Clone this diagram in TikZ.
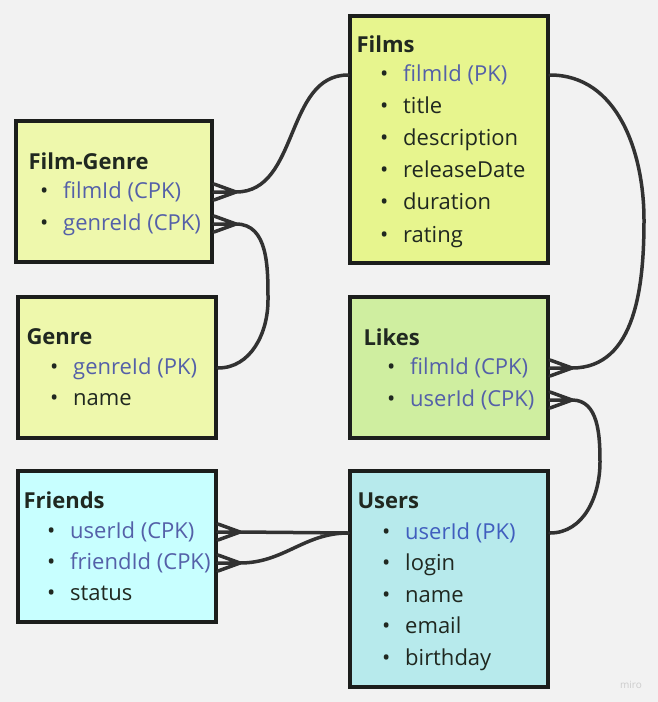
\documentclass[tikz,border=0pt]{standalone}
\usepackage{fontspec}
\setmainfont{Open Sans}
\usetikzlibrary{positioning}
\definecolor{bg}{RGB}{242,242,242}
\definecolor{boxline}{RGB}{28,30,28}
\definecolor{linkgray}{RGB}{50,50,50}
\definecolor{ink}{RGB}{32,40,32}
\definecolor{keyblue}{RGB}{84,96,168}
\definecolor{pkblue}{RGB}{64,94,190}
\definecolor{films-fill}{RGB}{231,245,142}
\definecolor{genre-fill}{RGB}{238,248,172}
\definecolor{likes-fill}{RGB}{207,238,160}
\definecolor{friends-fill}{RGB}{200,255,255}
\definecolor{users-fill}{RGB}{183,234,236}
\newcommand{\fld}[1]{\makebox[23pt][l]{\textcolor{ink}{\textbullet}}#1}
\newcommand{\crowsfoot}[1]{%
  \draw[link] ([xshift=22pt]#1) -- ([yshift=8pt]#1)
              ([xshift=22pt]#1) -- (#1)
              ([xshift=22pt]#1) -- ([yshift=-8pt]#1);}

\begin{document}
\begin{tikzpicture}[x=1pt, y=-1pt,
    table/.style={draw=boxline, line width=4pt, inner sep=0pt},
    title/.style={anchor=west, font=\fontsize{22}{26}\selectfont\bfseries, text=ink},
    field/.style={anchor=west, font=\fontsize{22}{26}\selectfont, text=ink, text height=16pt, text depth=4pt, inner sep=0pt},
    key/.style={field, text=keyblue},
    link/.style={draw=linkgray, line width=3.5pt, line cap=round, line join=round}]

    \fill[bg] (0,0) rectangle (658,702);

    % tables
    \node[table, fill=films-fill, minimum width=198pt, minimum height=247pt] (films) at (449,139.5) {};
    \node[table, fill=genre-fill, minimum width=196pt, minimum height=141pt] (filmgenre) at (114,191.5) {};
    \node[table, fill=genre-fill, minimum width=198pt, minimum height=141pt] (genre) at (117,367.5) {};
    \node[table, fill=likes-fill, minimum width=198pt, minimum height=141pt] (likes) at (449,367.5) {};
    \node[table, fill=friends-fill, minimum width=198pt, minimum height=151pt] (friends) at (117,546.5) {};
    \node[table, fill=users-fill, minimum width=198pt, minimum height=216pt] (users) at (449,579) {};

    % Films
    \node[title] (films-title) at (353,44) {Films};
    \node[key] (films-id) at (380,75) {\fld{filmId (PK)}};
    \foreach \t [count=\i] in {title, description, releaseDate, duration, rating}
        \node[field] (films-\i) at (380,75+32.2*\i) {\fld{\t}};

    % Film-Genre
    \node[title] (fg-title) at (25,161) {Film-Genre};
    \node[key] (fg-film) at (40,192) {\fld{filmId (CPK)}};
    \node[key] (fg-genre) at (40,224) {\fld{genreId (CPK)}};

    % Genre
    \node[title] (genre-title) at (23,337) {Genre};
    \node[key] (genre-id) at (50,368) {\fld{genreId (PK)}};
    \node[field] (genre-name) at (50,399) {\fld{name}};

    % Likes
    \node[title] (likes-title) at (360,337) {Likes};
    \node[key] (likes-film) at (387,368) {\fld{filmId (CPK)}};
    \node[key] (likes-user) at (387,400) {\fld{userId (CPK)}};

    % Friends
    \node[title] (friends-title) at (20,500) {Friends};
    \node[key] (friends-user) at (47,532) {\fld{userId (CPK)}};
    \node[key] (friends-friend) at (47,563) {\fld{friendId (CPK)}};
    \node[field] (friends-status) at (47,594) {\fld{status}};

    % Users
    \node[title] (users-title) at (354,501) {Users};
    \node[key, text=pkblue] (users-id) at (382,533) {\fld{userId (PK)}};
    \foreach \t [count=\i] in {login, name, email, birthday}
        \node[field] (users-\i) at (382,533+31.6*\i) {\fld{\t}};

    % connector ends on the box edges
    \coordinate (films-r) at (films.east |- films-id);
    \coordinate (films-l) at (films.west |- films-id);
    \coordinate (fg-f) at (filmgenre.east |- fg-film);
    \coordinate (fg-g) at (filmgenre.east |- fg-genre);
    \coordinate (genre-r) at (genre.east |- genre-id);
    \coordinate (likes-f) at (likes.east |- likes-film);
    \coordinate (likes-u) at (likes.east |- likes-user);
    \coordinate (users-r) at (users.east |- users-id);
    \coordinate (users-l) at (users.west |- users-id);
    \coordinate (fr-u) at (friends.east |- friends-user);
    \coordinate (fr-f) at (friends.east |- friends-friend);

    % relations
    \draw[link] (films-r) to[out=0, in=90] (644,220) to[out=-90, in=0] ([xshift=22pt]likes-f);
    \draw[link] (films-l) to[out=180, in=0] ([xshift=22pt]fg-f);
    \draw[link] (genre-r) to[out=0, in=-90] (268,300) to[out=90, in=0] ([xshift=22pt]fg-g);
    \draw[link] (users-r) to[out=0, in=-90] (600,462) to[out=90, in=0] ([xshift=22pt]likes-u);
    \draw[link] (users-l) -- ([xshift=22pt]fr-u);
    \draw[link] (users-l) to[out=180, in=0] ([xshift=22pt]fr-f);

    \crowsfoot{likes-f}
    \crowsfoot{likes-u}
    \crowsfoot{fg-f}
    \crowsfoot{fg-g}
    \crowsfoot{fr-u}
    \crowsfoot{fr-f}

    \node[font=\fontsize{10}{11}\selectfont, text=black!20] (miro) at (631,685) {miro};
\end{tikzpicture}
\end{document}
